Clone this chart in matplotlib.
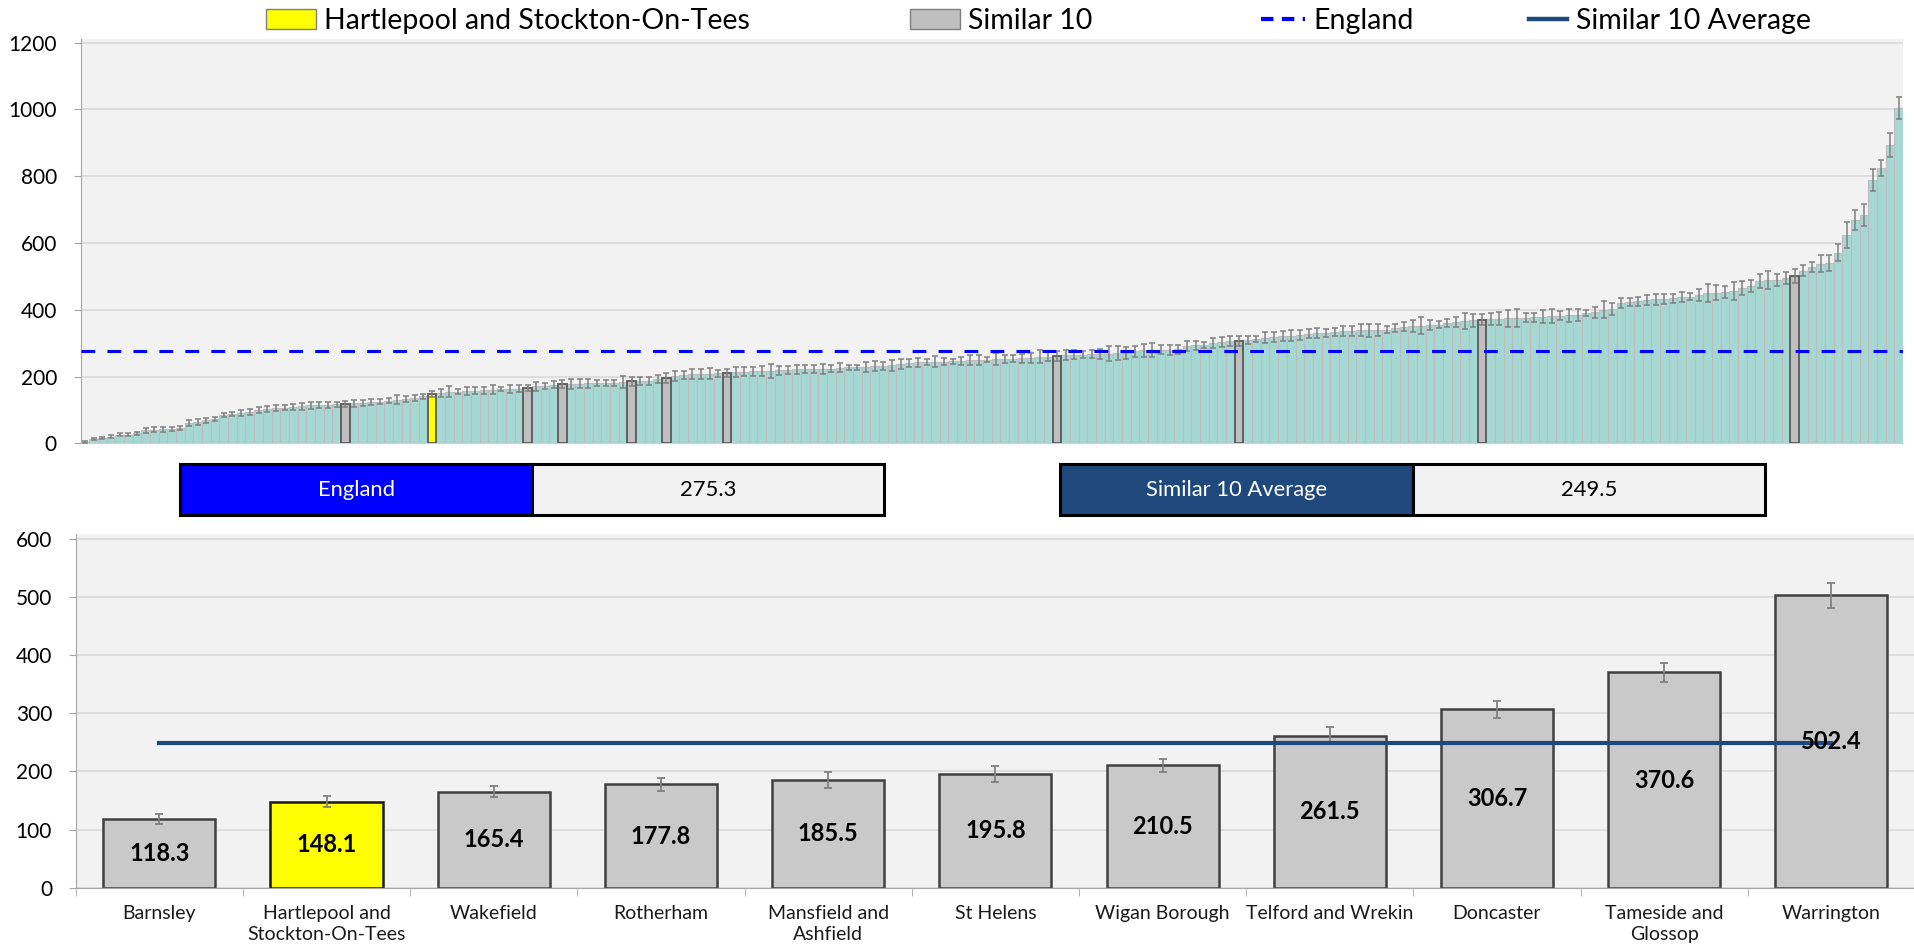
import matplotlib
matplotlib.use("Agg")
import matplotlib.pyplot as plt
import numpy as np
from matplotlib.patches import Patch, Rectangle
from matplotlib.lines import Line2D

plt.rcParams['font.family'] = ['Lato', 'DejaVu Sans']

# ---- data ----
# all areas, ranked (top chart)
top_vals = [
    4, 14, 17, 20, 26, 26, 30, 39, 41, 42,
    44, 45, 61, 64, 69, 72, 85, 87, 90, 94,
    100, 103, 105, 107, 108, 111, 114, 115, 116, 117,
    118.3, 120, 121, 123, 125, 128, 131, 133, 135, 141,
    148.1, 151, 155, 155, 157, 158, 159, 161, 162, 163,
    164, 165.4, 171, 172, 176, 177.8, 179, 179, 180, 181,
    181, 182, 184, 185.5, 187, 188, 192, 195.8, 201, 205,
    207, 208, 209, 210, 210.5, 213, 215, 216, 217, 218,
    219, 220, 222, 222, 223, 223, 224, 227, 228, 228,
    229, 232, 233, 234, 239, 241, 243, 243, 245, 245,
    246, 247, 249, 250, 251, 252, 253, 254, 255, 256,
    259, 260, 261.5, 264, 265, 266, 267, 268, 269, 270,
    271, 275, 278, 279, 280, 280, 281, 291, 293, 294,
    300, 303, 305, 306.7, 309, 311, 316, 318, 320, 322,
    324, 328, 330, 331, 334, 336, 337, 338, 338, 339,
    340, 346, 349, 351, 352, 354, 355, 359, 363, 366,
    368, 370.6, 372, 373, 374, 375, 376, 377, 379, 381,
    382, 383, 384, 390, 392, 400, 402, 420, 423, 425,
    428, 431, 433, 434, 438, 439, 444, 450, 451, 452,
    457, 465, 471, 486, 489, 490, 494, 502.4, 517, 529,
    538, 540, 571, 624, 670, 684, 789, 824, 894, 1004,
]
top_err = [
    2, 3, 3, 5, 5, 4, 4, 7, 8, 7,
    6, 6, 9, 8, 8, 6, 7, 6, 9, 10,
    9, 8, 9, 8, 9, 11, 10, 9, 9, 8,
    9, 11, 10, 9, 8, 8, 13, 9, 9, 7,
    10, 13, 16, 7, 11, 10, 10, 13, 6, 12,
    10, 10, 14, 9, 11, 11, 15, 13, 14, 9,
    9, 9, 17, 14, 13, 12, 12, 14, 15, 11,
    15, 16, 16, 11, 11, 15, 13, 13, 16, 21,
    13, 11, 14, 12, 13, 15, 10, 13, 8, 8,
    15, 15, 12, 17, 15, 13, 13, 9, 16, 11,
    8, 11, 15, 14, 8, 18, 13, 11, 13, 15,
    19, 14, 15, 14, 13, 10, 12, 14, 22, 20,
    18, 17, 20, 21, 13, 14, 13, 15, 13, 9,
    14, 15, 15, 14, 13, 9, 16, 15, 15, 16,
    14, 14, 14, 12, 12, 14, 15, 18, 19, 19,
    11, 12, 14, 19, 26, 15, 11, 12, 16, 25,
    19, 17, 19, 19, 26, 28, 14, 13, 19, 21,
    13, 19, 19, 10, 16, 25, 19, 16, 11, 13,
    15, 16, 15, 13, 14, 11, 18, 27, 23, 18,
    27, 21, 19, 22, 27, 18, 18, 21, 17, 15,
    26, 24, 25, 38, 30, 34, 33, 24, 36, 34,
]

# similar 10 + selected area (bottom chart)
sim_names = ['Barnsley', 'Hartlepool and\nStockton-On-Tees', 'Wakefield', 'Rotherham',
             'Mansfield and\nAshfield', 'St Helens', 'Wigan Borough', 'Telford and Wrekin',
             'Doncaster', 'Tameside and\nGlossop', 'Warrington']
sim_vals = [118.3, 148.1, 165.4, 177.8, 185.5, 195.8, 210.5, 261.5, 306.7, 370.6, 502.4]
sim_err = [9.2, 9.7, 9.7, 11, 14, 14, 11, 15, 14, 16.6, 21]
selected = 'Hartlepool and\nStockton-On-Tees'

england = 275.3
sim_avg = 249.5

# colours
TEAL = '#A6D8D3'
GREY_BAR = '#C9C9C9'
YELLOW = '#FFFF00'
NAVY = '#1F497D'
BG = '#F2F2F2'
GRID = '#D9D9D9'

W, H = 1915, 950
fig = plt.figure(figsize=(W / 100, H / 100), dpi=100)

# ---------------- top chart ----------------
ax1 = fig.add_axes([80.6 / W, 1 - 443.3 / H, (1903 - 80.6) / W, (443.3 - 38.7) / H])
ax1.set_facecolor(BG)
x = np.arange(len(top_vals))
ax1.bar(x, top_vals, width=1.0, color=TEAL, edgecolor='#BDBDBD', linewidth=0.8, zorder=2)

hl = [top_vals.index(v) for v in sim_vals]
for name, v, i in zip(sim_names, sim_vals, hl):
    fc = YELLOW if name == selected else '#BFBFBF'
    ax1.bar(i, v, width=1.0, color=fc, edgecolor='#595959', linewidth=1.3, zorder=3)

ax1.errorbar(x, top_vals, yerr=top_err, fmt='none', ecolor='#808080',
             elinewidth=1.1, capsize=2, capthick=1.1, zorder=4)
ax1.axhline(england, color='#0000FF', lw=2.2, linestyle=(0, (4.5, 4)), zorder=5)

ax1.set_xlim(-0.5, len(top_vals) - 0.5)
ax1.set_ylim(0, 1212)
ax1.set_yticks(range(0, 1201, 200))
ax1.set_xticks([])
ax1.grid(axis='y', color=GRID, lw=1.2)
ax1.set_axisbelow(True)
for s in ['top', 'right']:
    ax1.spines[s].set_visible(False)
ax1.spines['left'].set_color('#A6A6A6')
ax1.spines['bottom'].set_color('#D0D0D0')
ax1.tick_params(axis='y', length=5, color='#A6A6A6', pad=12, labelsize=15)

# ---------------- legend row ----------------
ly = 1 - 21 / H
leg_items = [
    (Patch(facecolor=YELLOW, edgecolor='#7F7F7F'), 'Hartlepool and Stockton-On-Tees', 266, 1.75),
    (Patch(facecolor='#BFBFBF', edgecolor='#7F7F7F'), 'Similar 10', 910, 1.75),
    (Line2D([], [], color='#0000FF', lw=3, dashes=(3, 2)), 'England', 1261, 1.55),
    (Line2D([], [], color=NAVY, lw=3.2), 'Similar 10 Average', 1529, 1.35),
]
for h, lab, xp, hlen in leg_items:
    fig.legend([h], [lab], loc='center left', bbox_to_anchor=(xp / W, ly), frameon=False,
               fontsize=20.5, borderpad=0, borderaxespad=0, handlelength=hlen,
               handletextpad=0.3)

# ---------------- summary boxes ----------------
def box(x0, x1, y0, y1, fc, text, tc):
    fig.add_artist(Rectangle((x0 / W, 1 - y1 / H), (x1 - x0) / W, (y1 - y0) / H,
                             transform=fig.transFigure, facecolor=fc, edgecolor='black', lw=2.2))
    fig.text((x0 + x1) / 2 / W, 1 - (y0 + y1) / 2 / H, text, color=tc, fontsize=15.8,
             ha='center', va='center')

box(180, 532, 464, 515, '#0000FF', 'England', 'white')
box(532, 884, 464, 515, BG, f'{england:.1f}', 'black')
box(1060, 1413, 464, 515, NAVY, 'Similar 10 Average', 'white')
box(1413, 1765, 464, 515, BG, f'{sim_avg:.1f}', 'black')

# ---------------- bottom chart ----------------
ax2 = fig.add_axes([75.7 / W, 1 - 887.9 / H, 1 - 75.7 / W, (887.9 - 534) / H])
ax2.set_facecolor(BG)
xb = np.arange(len(sim_vals))
cols = [YELLOW if n == selected else GREY_BAR for n in sim_names]
edges = ['#1A1A1A' if n == selected else '#404040' for n in sim_names]
ax2.bar(xb, sim_vals, width=0.67, color=cols, edgecolor=edges, linewidth=1.8, zorder=2)
ax2.errorbar(xb, sim_vals, yerr=sim_err, fmt='none', ecolor='#808080',
             elinewidth=1.3, capsize=2.7, capthick=1.3, zorder=3)
ax2.plot([xb[0], xb[-1]], [sim_avg, sim_avg], color=NAVY, lw=3, zorder=4)
for xi, v in zip(xb, sim_vals):
    ax2.text(xi, v / 2, f'{v:.1f}', ha='center', va='center', fontsize=17,
             fontweight='bold', zorder=5)

ax2.set_xlim(-0.49, 10.47)
ax2.set_ylim(0, 608)
ax2.set_yticks(range(0, 601, 100))
ax2.set_xticks(xb)
ax2.set_xticklabels(sim_names, fontsize=14, color='#1A1A1A', linespacing=1.35)
ax2.set_xticks(np.arange(-0.5, len(sim_vals), 1), minor=True)
ax2.tick_params(axis='x', which='major', length=0, pad=12)
ax2.tick_params(axis='x', which='minor', length=6, color='#A6A6A6')
ax2.tick_params(axis='y', length=5, color='#A6A6A6', pad=12, labelsize=15)
ax2.grid(axis='y', color=GRID, lw=1.2)
ax2.set_axisbelow(True)
for s in ['top', 'right']:
    ax2.spines[s].set_visible(False)
ax2.spines['left'].set_color('#A6A6A6')
ax2.spines['bottom'].set_color('#A6A6A6')

fig.savefig('out.png', dpi=100, facecolor='white')
